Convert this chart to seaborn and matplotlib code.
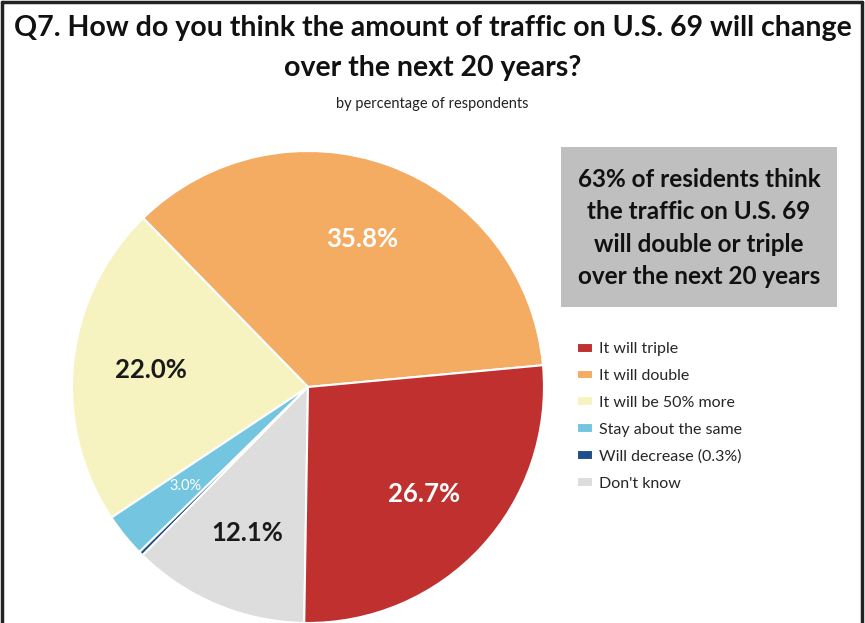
import matplotlib
matplotlib.use("Agg")
import matplotlib.pyplot as plt
import seaborn as sns
from matplotlib.patches import Rectangle
from matplotlib.lines import Line2D

# === data ===
answers = ["It will double", "It will be 50% more", "Stay about the same",
           "Will decrease (0.3%)", "Don't know", "It will triple"]
shares = [35.8, 22.0, 3.0, 0.3, 12.1, 26.7]
slice_colors = ["#F4AB62", "#F7F3C0", "#74C6E0", "#1F4E8C", "#DDDDDD", "#C0302F"]
label_colors = ["white", "#1a1a1a", "white", "white", "#1a1a1a", "white"]
label_sizes = [18.5, 18.5, 10.5, 9, 18.5, 18.5]
legend_order = ["It will triple", "It will double", "It will be 50% more",
                "Stay about the same", "Will decrease (0.3%)", "Don't know"]

sns.set_theme(style="white")
plt.rcParams["font.family"] = ["Lato", "DejaVu Sans"]

W, H = 865, 623
fig = plt.figure(figsize=(W / 100, H / 100), dpi=100)

# pie axes: centre (308, 387), radius 236 px
cx, cy, r = 308, 387, 236
ax = fig.add_axes([(cx - r) / W, (H - cy - r) / H, 2 * r / W, 2 * r / H])
wedges, texts, autotexts = ax.pie(
    shares, colors=slice_colors, startangle=5.3, counterclock=True,
    autopct="%.1f%%", pctdistance=0.67,
    wedgeprops=dict(edgecolor="white", linewidth=1.5))
for t, val, c, s in zip(autotexts, shares, label_colors, label_sizes):
    t.set_text("" if val < 1 else f"{val:.1f}%")
    t.set_color(c)
    t.set_fontsize(s)
    t.set_fontweight("bold" if s > 12 else "normal")
ax.set_xlim(-1, 1)
ax.set_ylim(-1, 1)
ax.axis("off")

# titles
fig.text(0.5, 1 - 28 / H, "Q7. How do you think the amount of traffic on U.S. 69 will change",
         ha="center", va="center", fontsize=20.5, fontweight="bold", color="#111111")
fig.text(0.5, 1 - 68 / H, "over the next 20 years?",
         ha="center", va="center", fontsize=20.5, fontweight="bold", color="#111111")
fig.text(0.5, 1 - 104 / H, "by percentage of respondents",
         ha="center", va="center", fontsize=10.5, color="#222222")

# grey call-out box
fig.add_artist(Rectangle((561 / W, 1 - 307 / H), (837 - 561) / W, (307 - 147) / H,
                         transform=fig.transFigure, facecolor="#BFBFBF", edgecolor="none"))
fig.text(699 / W, 1 - 228 / H,
         "63% of residents think\nthe traffic on U.S. 69\nwill double or triple\nover the next 20 years",
         ha="center", va="center", fontsize=17.5, fontweight="bold", color="#111111",
         linespacing=1.5)

# legend
handles = [wedges[answers.index(a)] for a in legend_order]
fig.legend(handles, legend_order, loc="upper left",
           bbox_to_anchor=(571 / W, 1 - 336 / H), frameon=False,
           fontsize=11.5, handlelength=1.0, handleheight=0.55, handletextpad=0.35,
           labelspacing=0.8, borderaxespad=0)

# frame around the picture (no bottom line)
for xs, ys in [([1.5, 1.5], [0, H - 2]), ([862, 862], [0, H - 2]), ([1.5, 862], [H - 2, H - 2])]:
    fig.add_artist(Line2D([x / W for x in xs], [y / H for y in ys],
                          transform=fig.transFigure, color="#222222", linewidth=2.5))

fig.savefig("out.png", dpi=100)
